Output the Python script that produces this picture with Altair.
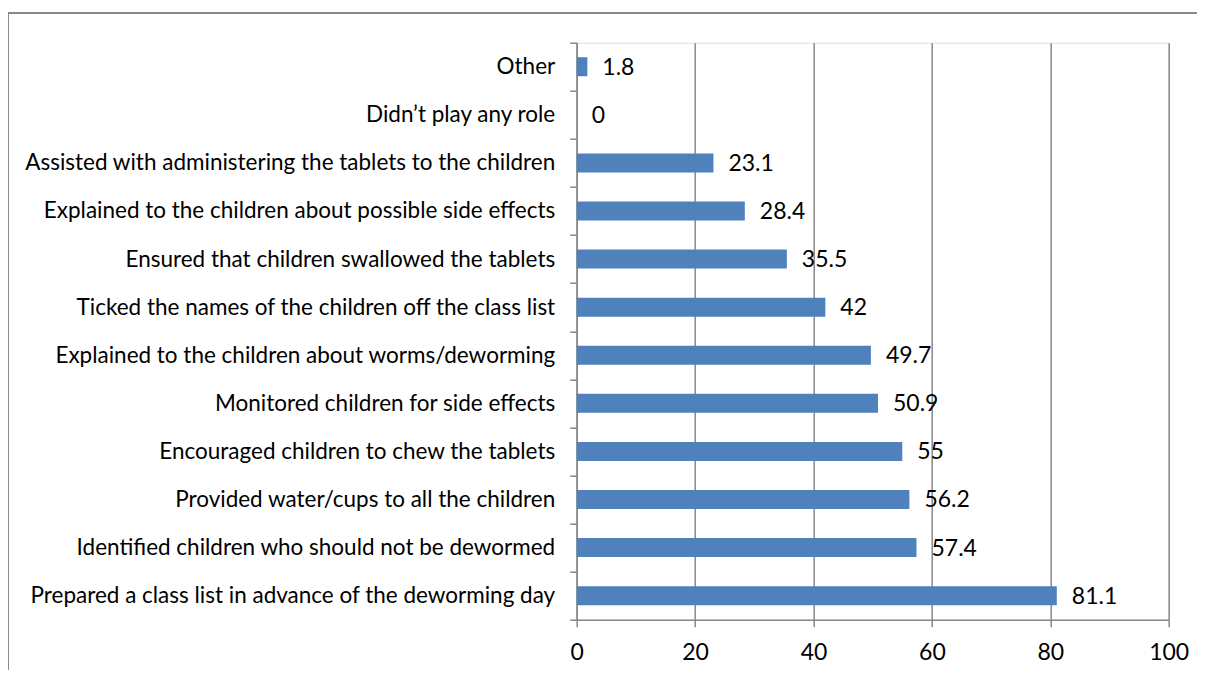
import altair as alt
import pandas as pd

categories = [
    "Other",
    "Didn’t play any role\u2002",
    "Assisted with administering the tablets to the children",
    "Explained to the children about possible side effects",
    "Ensured that children swallowed the tablets",
    "Ticked the names of the children off the class list",
    "Explained to the children about worms/deworming\u2002",
    "Monitored children for side effects",
    "Encouraged children to chew the tablets",
    "Provided water/cups to all the children",
    "Identified children who should not be dewormed\u2002",
    "Prepared a class list in advance of the deworming day",
]
values = [1.8, 0, 23.1, 28.4, 35.5, 42, 49.7, 50.9, 55, 56.2, 57.4, 81.1]
x_ticks = [0, 20, 40, 60, 80, 100]

df = pd.DataFrame({"role": categories, "pct": values})

FONT = "Lato"
GRID = "#888888"

y_enc = alt.Y(
    "role:N",
    sort=categories,
    scale=alt.Scale(paddingInner=0, paddingOuter=0),
    axis=alt.Axis(
        title=None,
        tickBand="extent",
        tickSize=7,
        tickColor=GRID,
        tickWidth=1.5,
        domainColor=GRID,
        domainWidth=1.5,
        labelPadding=15,
        labelFont=FONT,
        labelFontSize=22.5,
        labelColor="#000000",
        labelLimit=600,
        grid=False,
    ),
)
x_enc = alt.X(
    "pct:Q",
    scale=alt.Scale(domain=[0, 100], nice=False),
    axis=alt.Axis(
        title=None,
        values=x_ticks,
        grid=True,
        gridColor=GRID,
        gridWidth=1.5,
        tickSize=7,
        tickColor=GRID,
        tickWidth=1.5,
        domainColor=GRID,
        domainWidth=1.5,
        labelPadding=15,
        labelFont=FONT,
        labelFontSize=23,
        labelColor="#000000",
        labelFlush=False,
    ),
)

base = alt.Chart(df)
bars = base.mark_bar(color="#4F81BD", size=19).encode(x=x_enc, y=y_enc)
labels = base.mark_text(
    align="left", baseline="middle", dx=15, dy=1, font=FONT, fontSize=23, color="#000000"
).encode(x="pct:Q", y=alt.Y("role:N", sort=categories), text=alt.Text("pct:Q"))

border_left = alt.Chart(df).mark_rule(color="#8a8a8a", strokeWidth=2).encode(
    x=alt.value(-568.7), y=alt.value(-29.7), y2=alt.value(800)
)
border_top = alt.Chart(df).mark_rule(color="#8a8a8a", strokeWidth=2).encode(
    x=alt.value(-568.7), x2=alt.value(800), y=alt.value(-29.7)
)

chart = (
    alt.layer(bars, labels, border_left, border_top)
    .properties(
        width=592,
        height=577,
        autosize=alt.AutoSizeParams(type="none"),
        padding={"left": 568.7, "top": 34.7, "right": 28, "bottom": 50},
    )
    .configure_view(stroke=None)
    .configure(background="#ffffff")
)

chart.save("out.html", embed_options={"renderer": "svg", "actions": False})
